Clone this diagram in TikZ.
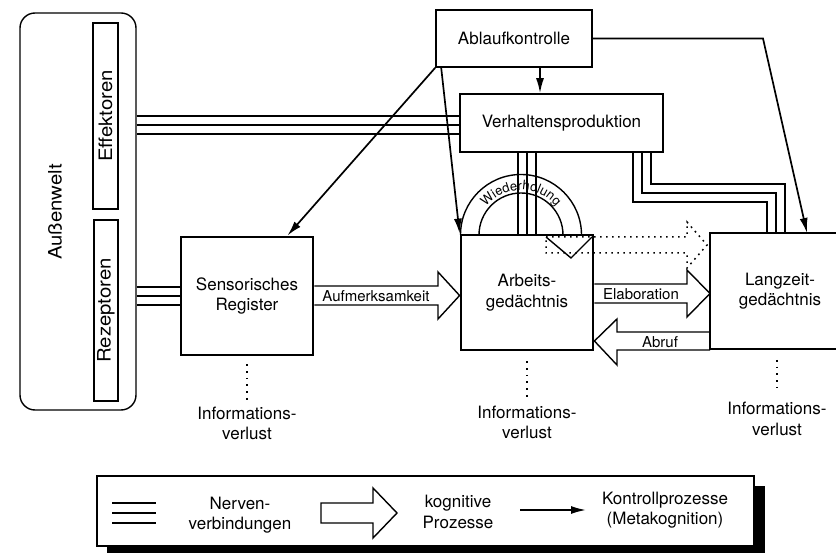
\documentclass[tikz,border=0pt]{standalone}
\usepackage{fontspec}
\setmainfont{TeX Gyre Heros}
\usetikzlibrary{arrows.meta,positioning,calc,decorations.text}

% drei parallele Nervenbahnen
\newcommand{\nervlink}[1]{\draw[nerv] #1; \draw[nervmid] #1;}

\begin{document}
\begin{tikzpicture}[x=1pt,y=-1pt,>={Latex[length=15pt,width=8pt]},
                    every node/.style={font=\fontsize{17}{20.5}\selectfont,inner sep=0pt}]
\tikzstyle{box}=[rectangle,draw=black,line width=1.6pt,align=center]
\tikzstyle{membox}=[rectangle,draw=black,line width=2.8pt,align=center,minimum width=132pt]
\tikzstyle{nerv}=[double distance=16.6pt,line width=1.4pt]
\tikzstyle{nervmid}=[line width=1.4pt]
\tikzstyle{hollow}=[draw=black,line width=1.4pt,fill=white,line join=miter]
\tikzstyle{kontroll}=[->,line width=1.7pt]
\tikzstyle{verlust}=[line width=1.7pt,dash pattern=on 1.7pt off 5pt]
\tikzstyle{punktpfeil}=[line width=1.5pt,dash pattern=on 1.7pt off 4.3pt]
\tikzstyle{vtext}=[rotate=90,font=\fontsize{18.5}{20}\selectfont\addfontfeature{FakeStretch=1.1}]
\tikzstyle{klein}=[font=\fontsize{15}{17}\selectfont]

\useasboundingbox (0,0) rectangle (836,553);

% Umwelt
\node[draw,line width=1.4pt,rounded corners=15pt,minimum width=116pt,minimum height=397pt] (aussen) at (78,211.5) {};
\node[vtext] (aussentext) at (55,212) {Außenwelt};
\node[box,vtext,line width=1.4pt,minimum width=186pt,minimum height=25pt] (eff) at (105.5,116) {Effektoren};
\node[box,vtext,line width=1.4pt,minimum width=181pt,minimum height=24pt] (rez) at (106,310.5) {Rezeptoren};

% Kontrolle und Speicher
\node[box,minimum width=156pt,minimum height=57pt] (abl) at (514,38.5) {Ablaufkontrolle};
\node[box,minimum width=203pt,minimum height=58pt] (verh) at (561.5,123) {Verhaltensproduktion};
\node[membox,minimum height=118pt] (sens) at (247,296) {Sensorisches\\Register};
\node[membox,minimum height=115pt] (arb) at (527,292.5) {Arbeits-\\gedächtnis};
\node[membox,draw=none,outer sep=0pt,minimum width=140pt,minimum height=116pt] (lang) at (780,291) {Langzeit-\\gedächtnis};

% Nervenverbindungen
\nervlink{(aussen.east |- 0,125) -- (verh.west |- 0,125)}
\nervlink{(aussen.east |- sens.west) -- (sens.west)}
\nervlink{(verh.south -| arb.north) -- (arb.north)}
\nervlink{(verh.south -| 642,0) |- (776,193) -- (lang.north -| 776,0)}

% kognitive Prozesse
\draw[hollow] (sens.east |- 0,286) -- (438,286) -- (438,272) -- (arb.west |- 0,295.5)
  -- (438,319) -- (438,305) -- (sens.east |- 0,305);
\node[klein] (aufm) at (376,296) {Aufmerksamkeit};
\draw[hollow] (arb.east |- 0,284) -- (687,284) -- (687,270) -- (lang.west |- 0,293.5)
  -- (687,317) -- (687,303) -- (arb.east |- 0,303);
\node[klein] (elab) at (641,294) {Elaboration};
\draw[hollow] (lang.west |- 0,332) -- (617,332) -- (617,319) -- (arb.east |- 0,341)
  -- (617,365) -- (617,350) -- (lang.west |- 0,350);
\node[klein] (abruf) at (660,342) {Abruf};
\draw[punktpfeil] (546,237) -- (687,237) -- (687,222) -- (707,245) -- (687,268)
  -- (687,253) -- (546,253) -- cycle;

\draw[line width=2.8pt,line join=miter] (lang.north -| 836,0) -- (lang.north west)
  -- (lang.south west) -- (lang.south -| 836,0);

% Wiederholung
\draw[line width=1.4pt] (460.5,235) arc[start angle=180,end angle=0,radius=60.5pt];
\draw[line width=1.4pt] (479,235) arc[start angle=180,end angle=0,radius=42pt];
\draw[line width=1.4pt] (546,237) -- (571,258) -- (592,237);
\path[decorate,decoration={text along path,text align=center,
      text={|\fontsize{13}{13}\selectfont|Wiederholung}}]
  (521,235) ++(165:45pt) arc[start angle=165,end angle=15,radius=45pt];

% Kontrollprozesse
\draw[kontroll] (abl.south west) -- ($(sens.north west)!0.8!(sens.north east)$);
\draw[kontroll] ([xshift=6pt]abl.south west) -- (arb.north west);
\draw[kontroll] (abl.south -| 540,0) -- (verh.north -| 540,0);
\draw[kontroll] (abl.east) -- (763,38.5) -- (lang.north -| 807,0);

% Informationsverlust
\node[align=center,below=50pt of sens] (verlust1) {Informations-\\verlust};
\node[align=center,below=54pt of arb] (verlust2) {Informations-\\verlust};
\node[align=center,below=53pt of lang,xshift=-3pt] (verlust3) {Informations-\\verlust};
\draw[verlust] ([yshift=-8pt]sens.south) -- ([yshift=6pt]verlust1.north);
\draw[verlust] ([yshift=-10pt]arb.south) -- ([yshift=8pt]verlust2.north);
\draw[verlust] ([yshift=-11pt]lang.south -| verlust3.north) -- ([yshift=12pt]verlust3.north);

% Legende
\fill[black] (107,486) rectangle (765,553);
\node[draw,fill=white,line width=1.4pt,minimum width=657pt,minimum height=70pt] (legende) at (425.5,511) {};
\foreach \y in {503,513,523}
  \draw[nervmid] (112,\y) -- (156,\y);
\node[align=center] (lnerv) at (240,515) {Nerven-\\verbindungen};
\draw[hollow] (321,503) -- (373,503) -- (373,488) -- (397,513) -- (373,538)
  -- (373,523) -- (321,523) -- cycle;
\node[align=center] (lkog) at (458,512) {kognitive\\Prozesse};
\draw[kontroll] (520,510) -- (586,510);
\node[align=center] (lkon) at (665,510) {Kontrollprozesse\\(Metakognition)};
\end{tikzpicture}
\end{document}
